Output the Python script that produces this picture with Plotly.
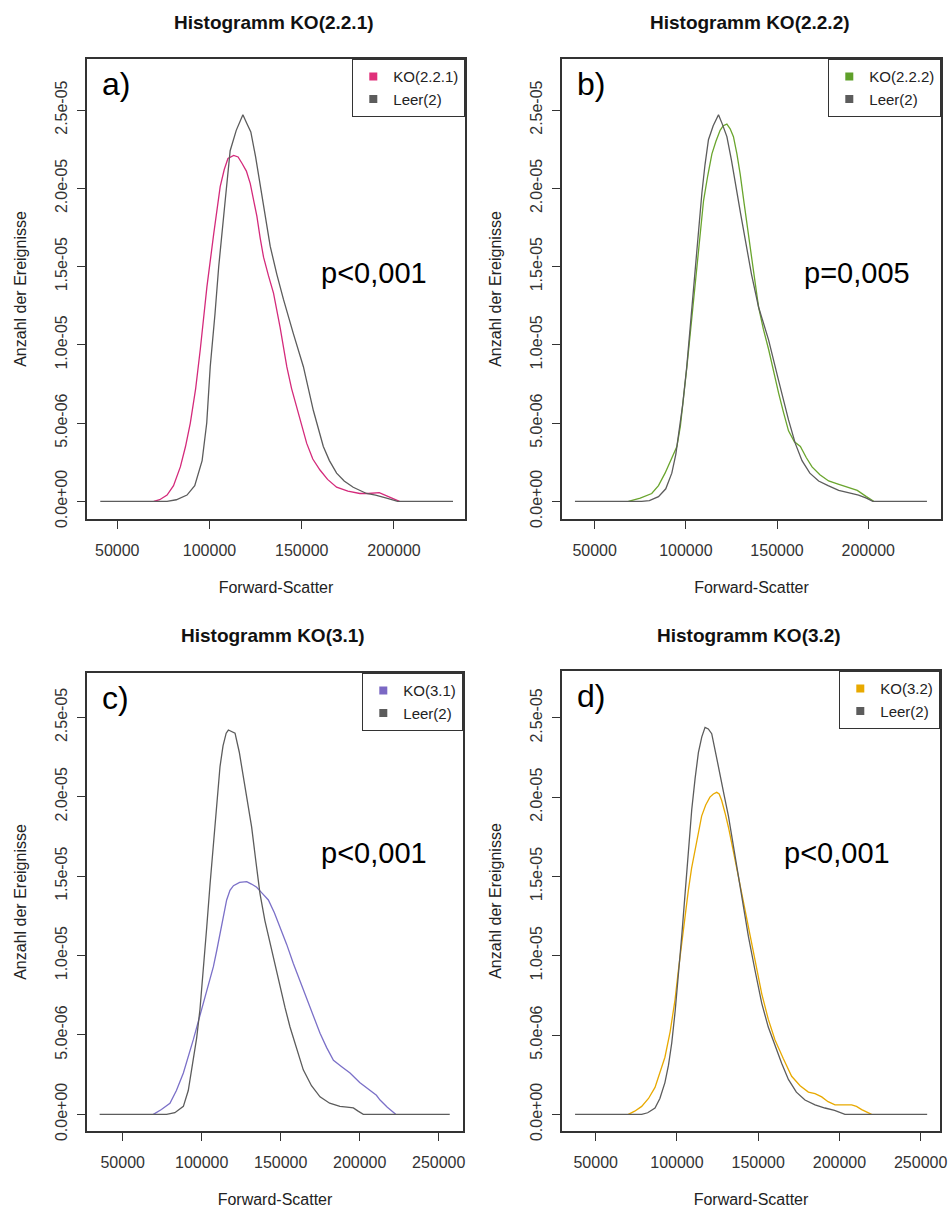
import plotly.graph_objects as go

# ---------------- data (y in units of 1e-5) ----------------
SCALE = 1e-5

a_leer_x = [40800, 77000, 82000, 87800, 92000, 96000, 98500, 100400, 103000, 105000, 108500, 111200,
            114500, 116500, 118100, 120000, 122400, 125000, 127500, 130000, 132900, 136500, 140100,
            145500, 150900, 156300, 161700, 165000, 168900, 173000, 177900, 185100, 190000, 196000,
            202000, 232000]
a_leer_y = [0, 0, 0.01, 0.04, 0.10, 0.26, 0.50, 0.86, 1.20, 1.50, 1.92, 2.24, 2.37, 2.43, 2.47, 2.42,
            2.36, 2.20, 2.01, 1.82, 1.63, 1.45, 1.29, 1.07, 0.86, 0.58, 0.35, 0.26, 0.18, 0.13, 0.09,
            0.05, 0.04, 0.02, 0, 0]
a_ko_x = [69800, 73000, 77000, 80500, 84200, 87000, 89600, 92500, 95000, 98600, 102300, 105800, 108000,
          110000, 113100, 115500, 117600, 120000, 122100, 124000, 125700, 127500, 129300, 132000,
          134700, 138300, 141900, 144500, 147300, 150000, 152700, 156000, 159900, 164000, 168900,
          175000, 181500, 186000, 192000, 197000, 203000]
a_ko_y = [0, 0.01, 0.04, 0.10, 0.22, 0.35, 0.50, 0.72, 0.97, 1.37, 1.71, 2.01, 2.12, 2.19, 2.21, 2.20,
          2.16, 2.11, 2.03, 1.93, 1.82, 1.68, 1.56, 1.44, 1.33, 1.11, 0.86, 0.72, 0.60, 0.48, 0.37,
          0.27, 0.20, 0.14, 0.09, 0.065, 0.05, 0.05, 0.055, 0.03, 0]

b_leer_x = [39200, 75800, 80000, 85000, 89000, 92300, 94500, 96000, 98300, 100500, 102800, 105100,
            106900, 108800, 110500, 112400, 115000, 117900, 120000, 122500, 125000, 127100, 130000,
            132600, 136000, 139900, 145400, 150900, 156300, 160000, 163700, 168000, 172800, 178000,
            183800, 189000, 194700, 199000, 202500, 232200]
b_leer_y = [0, 0, 0.005, 0.03, 0.08, 0.18, 0.30, 0.43, 0.62, 0.86, 1.18, 1.50, 1.75, 1.97, 2.15, 2.31,
            2.40, 2.47, 2.41, 2.33, 2.18, 2.03, 1.84, 1.67, 1.45, 1.24, 1.03, 0.77, 0.52, 0.37, 0.26,
            0.18, 0.13, 0.10, 0.07, 0.055, 0.04, 0.02, 0, 0]
b_ko_x = [68500, 75000, 81300, 85000, 88600, 92000, 95100, 97000, 98700, 100500, 102400, 104200, 106000,
          107800, 109700, 112000, 114300, 116500, 118800, 120500, 122500, 124300, 126100, 128000,
          129800, 132000, 134400, 137000, 139900, 142500, 145400, 148000, 150900, 153500, 156300,
          159500, 162800, 166000, 169200, 173500, 178300, 183500, 189300, 194000, 199000, 203000]
b_ko_y = [0, 0.02, 0.05, 0.10, 0.18, 0.27, 0.35, 0.48, 0.65, 0.85, 1.07, 1.28, 1.50, 1.71, 1.92, 2.08,
          2.22, 2.30, 2.37, 2.40, 2.41, 2.38, 2.33, 2.22, 2.09, 1.90, 1.71, 1.48, 1.24, 1.10, 0.97,
          0.83, 0.69, 0.57, 0.45, 0.38, 0.35, 0.28, 0.22, 0.17, 0.13, 0.11, 0.09, 0.07, 0.03, 0]

c_leer_x = [35400, 77800, 83000, 88400, 91500, 94700, 96800, 98900, 101000, 103200, 105300, 107400,
            109500, 111600, 113500, 115500, 116900, 119000, 121100, 123800, 126400, 129000, 131600,
            134200, 136900, 140000, 143200, 146400, 149600, 152800, 155900, 160000, 164300, 169500,
            174900, 181000, 187500, 192000, 196000, 199000, 202300, 257000]
c_leer_y = [0, 0, 0.01, 0.05, 0.15, 0.34, 0.48, 0.66, 0.90, 1.18, 1.45, 1.71, 1.96, 2.19, 2.32, 2.40,
            2.42, 2.41, 2.40, 2.28, 2.13, 1.97, 1.81, 1.60, 1.39, 1.22, 1.08, 0.94, 0.80, 0.67, 0.55,
            0.41, 0.28, 0.18, 0.11, 0.07, 0.05, 0.045, 0.04, 0.02, 0, 0]
c_ko_x = [69400, 74500, 79900, 84000, 88400, 91500, 94700, 98000, 101100, 104200, 107400, 109500,
          111600, 113700, 115800, 117900, 120100, 124000, 128500, 131500, 134800, 138500, 142200,
          146000, 149600, 153800, 158000, 162200, 166500, 170700, 174900, 179100, 183400, 188600,
          193900, 200000, 206500, 210600, 212900, 217500, 222800]
c_ko_y = [0, 0.03, 0.07, 0.15, 0.26, 0.36, 0.47, 0.59, 0.70, 0.81, 0.93, 1.03, 1.14, 1.25, 1.35, 1.41,
          1.44, 1.46, 1.465, 1.45, 1.43, 1.39, 1.35, 1.27, 1.18, 1.07, 0.95, 0.84, 0.74, 0.63, 0.51,
          0.42, 0.34, 0.30, 0.26, 0.20, 0.15, 0.12, 0.09, 0.045, 0]

d_leer_x = [37300, 78300, 82000, 86500, 89500, 92600, 94800, 96800, 98900, 100900, 103000, 105000,
            107000, 109100, 111200, 113200, 115300, 117300, 119300, 121400, 124000, 126500, 129100,
            131700, 134800, 137800, 141000, 144000, 148000, 152200, 156200, 160300, 164500, 168600,
            173500, 178800, 185000, 191100, 197000, 203400, 254000]
d_leer_y = [0, 0, 0.01, 0.04, 0.10, 0.20, 0.31, 0.45, 0.65, 0.87, 1.13, 1.39, 1.66, 1.92, 2.12, 2.28,
            2.38, 2.44, 2.43, 2.40, 2.27, 2.13, 2.01, 1.88, 1.69, 1.50, 1.30, 1.12, 0.91, 0.70, 0.55,
            0.43, 0.32, 0.22, 0.14, 0.09, 0.06, 0.04, 0.025, 0, 0]
d_ko_x = [70100, 74000, 78300, 82500, 86500, 89500, 92600, 95800, 98800, 100800, 102900, 105000,
          107000, 109000, 111100, 113200, 115200, 117700, 120300, 122400, 124500, 126000, 127500,
          129600, 131700, 134700, 137800, 140900, 144000, 148000, 152200, 156200, 160300, 165500,
          170600, 175800, 180900, 185000, 189100, 193000, 197300, 202000, 207500, 210500, 213700,
          219800]
d_ko_y = [0, 0.02, 0.05, 0.10, 0.17, 0.26, 0.36, 0.52, 0.72, 0.90, 1.08, 1.25, 1.41, 1.55, 1.67, 1.78,
          1.88, 1.95, 2.00, 2.02, 2.03, 2.02, 1.98, 1.90, 1.81, 1.66, 1.50, 1.33, 1.16, 0.96, 0.76,
          0.60, 0.47, 0.35, 0.24, 0.18, 0.14, 0.13, 0.11, 0.08, 0.06, 0.06, 0.06, 0.05, 0.03, 0]

titles = ["Histogramm KO(2.2.1)", "Histogramm KO(2.2.2)", "Histogramm KO(3.1)", "Histogramm KO(3.2)"]
ko_names = ["KO(2.2.1)", "KO(2.2.2)", "KO(3.1)", "KO(3.2)"]
leer_name = "Leer(2)"
letters = ["a)", "b)", "c)", "d)"]
p_values = ["p<0,001", "p=0,005", "p<0,001", "p<0,001"]

x_ticks_ab = [50000, 100000, 150000, 200000]
x_ticks_cd = [50000, 100000, 150000, 200000, 250000]
y_ticks = [0, 0.5, 1.0, 1.5, 2.0, 2.5]
y_tick_labels = ["0.0e+00", "5.0e-06", "1.0e-05", "1.5e-05", "2.0e-05", "2.5e-05"]
x_title = "Forward-Scatter"
y_title = "Anzahl der Ereignisse"

# ---------------- style / layout ----------------
W, H = 948, 1210
FONT = "Arial, Liberation Sans, sans-serif"
LEER_COLOR = "#5c5c5c"
KO_COLORS = ["#d42a7b", "#6aa52e", "#7b70c8", "#e8a900"]
LEGEND_SQ = ["#e0307a", "#5fa02a", "#7b68c4", "#e8a900"]

# plot boxes in pixels: (left, top, right, bottom)
boxes = [(87, 59, 465, 519), (562, 59, 941, 519), (87, 673, 463, 1131), (562, 671, 940, 1131)]
x_ranges = [[33600, 238500], [32100, 239900], [27400, 265400], [29260, 261900]]
y_ranges = [[-0.113, 2.826], [-0.113, 2.826], [-0.105, 2.779], [-0.105, 2.795]]

series = [
    (a_ko_x, a_ko_y, a_leer_x, a_leer_y),
    (b_ko_x, b_ko_y, b_leer_x, b_leer_y),
    (c_ko_x, c_ko_y, c_leer_x, c_leer_y),
    (d_ko_x, d_ko_y, d_leer_x, d_leer_y),
]

fig = go.Figure()
annotations = []
layout_axes = {}

for i in range(4):
    sfx = "" if i == 0 else str(i + 1)
    xa, ya = "x" + sfx, "y" + sfx
    lg = "legend" + sfx
    kx, ky, lx, ly = series[i]
    fig.add_trace(go.Scatter(x=kx, y=[v * SCALE for v in ky], mode="lines",
                             line=dict(color=KO_COLORS[i], width=1.3), showlegend=False,
                             xaxis=xa, yaxis=ya, name=ko_names[i]))
    fig.add_trace(go.Scatter(x=lx, y=[v * SCALE for v in ly], mode="lines",
                             line=dict(color=LEER_COLOR, width=1.3), showlegend=False,
                             xaxis=xa, yaxis=ya, name=leer_name))
    # legend entries (square keys)
    fig.add_trace(go.Scatter(x=[None], y=[None], mode="markers", name=ko_names[i],
                             marker=dict(symbol="square", size=8, color=LEGEND_SQ[i]),
                             legend=lg, xaxis=xa, yaxis=ya))
    fig.add_trace(go.Scatter(x=[None], y=[None], mode="markers", name=leer_name,
                             marker=dict(symbol="square", size=8, color=LEER_COLOR),
                             legend=lg, xaxis=xa, yaxis=ya))

    l, t, r, b = boxes[i]
    xd = [l / W, r / W]
    yd = [1 - b / H, 1 - t / H]
    xt = x_ticks_ab if i < 2 else x_ticks_cd
    layout_axes["xaxis" + sfx] = dict(
        domain=xd, range=x_ranges[i], anchor=ya, tickvals=xt, ticktext=[str(v) for v in xt],
        ticks="outside", ticklen=8, tickwidth=1.2, tickcolor="#333", showline=True, mirror=True,
        linecolor="#333", linewidth=1.5, showgrid=False, zeroline=False, automargin=False,
        tickfont=dict(size=16, color="#333", family=FONT), ticklabelstandoff=8,
        title=dict(text=x_title, font=dict(size=16, color="#222", family=FONT), standoff=24))
    layout_axes["yaxis" + sfx] = dict(
        domain=yd, range=[v * SCALE for v in y_ranges[i]], anchor=xa,
        tickvals=[v * SCALE for v in y_ticks], ticktext=y_tick_labels, tickangle=-90,
        ticks="outside", ticklen=8, tickwidth=1.2, tickcolor="#333", showline=True, mirror=True,
        linecolor="#333", linewidth=1.5, showgrid=False, zeroline=False, automargin=False,
        tickfont=dict(size=16, color="#333", family=FONT), ticklabelstandoff=4,
        title=dict(text=y_title, font=dict(size=16, color="#222", family=FONT), standoff=22))
    layout_axes[lg] = dict(
        x=r / W, y=1 - t / H, xanchor="right", yanchor="top", bgcolor="white",
        bordercolor="#333", borderwidth=1.3, font=dict(size=15, color="#222", family=FONT),
        itemwidth=30, tracegroupgap=0)

    cx = (l + r) / 2
    title_y = 22 if i < 2 else 635
    annotations.append(dict(text="<b>" + titles[i] + "</b>", x=(cx - 2) / W, y=1 - title_y / H,
                            xref="paper", yref="paper", showarrow=False, xanchor="center",
                            yanchor="middle", font=dict(size=19, color="#111", family=FONT)))
    annotations.append(dict(text=letters[i], x=(l + 13) / W, y=1 - (t + 25) / H, xref="paper",
                            yref="paper", showarrow=False, xanchor="left", yanchor="middle",
                            font=dict(size=32, color="#000", family=FONT)))

p_pos = [(374, 273), (857, 273), (374, 853), (837, 853)]
for i, (px, py) in enumerate(p_pos):
    annotations.append(dict(text=p_values[i], x=px / W, y=1 - py / H, xref="paper", yref="paper",
                            showarrow=False, xanchor="center", yanchor="middle",
                            font=dict(size=29, color="#000", family=FONT)))

fig.update_layout(width=W, height=H, margin=dict(l=0, r=0, t=0, b=0),
                  paper_bgcolor="white", plot_bgcolor="white", annotations=annotations,
                  font=dict(family=FONT), **layout_axes)

fig.write_html("out.html", config={"displayModeBar": False},
               post_script="document.body.style.margin='0';document.body.style.overflow='hidden';")
